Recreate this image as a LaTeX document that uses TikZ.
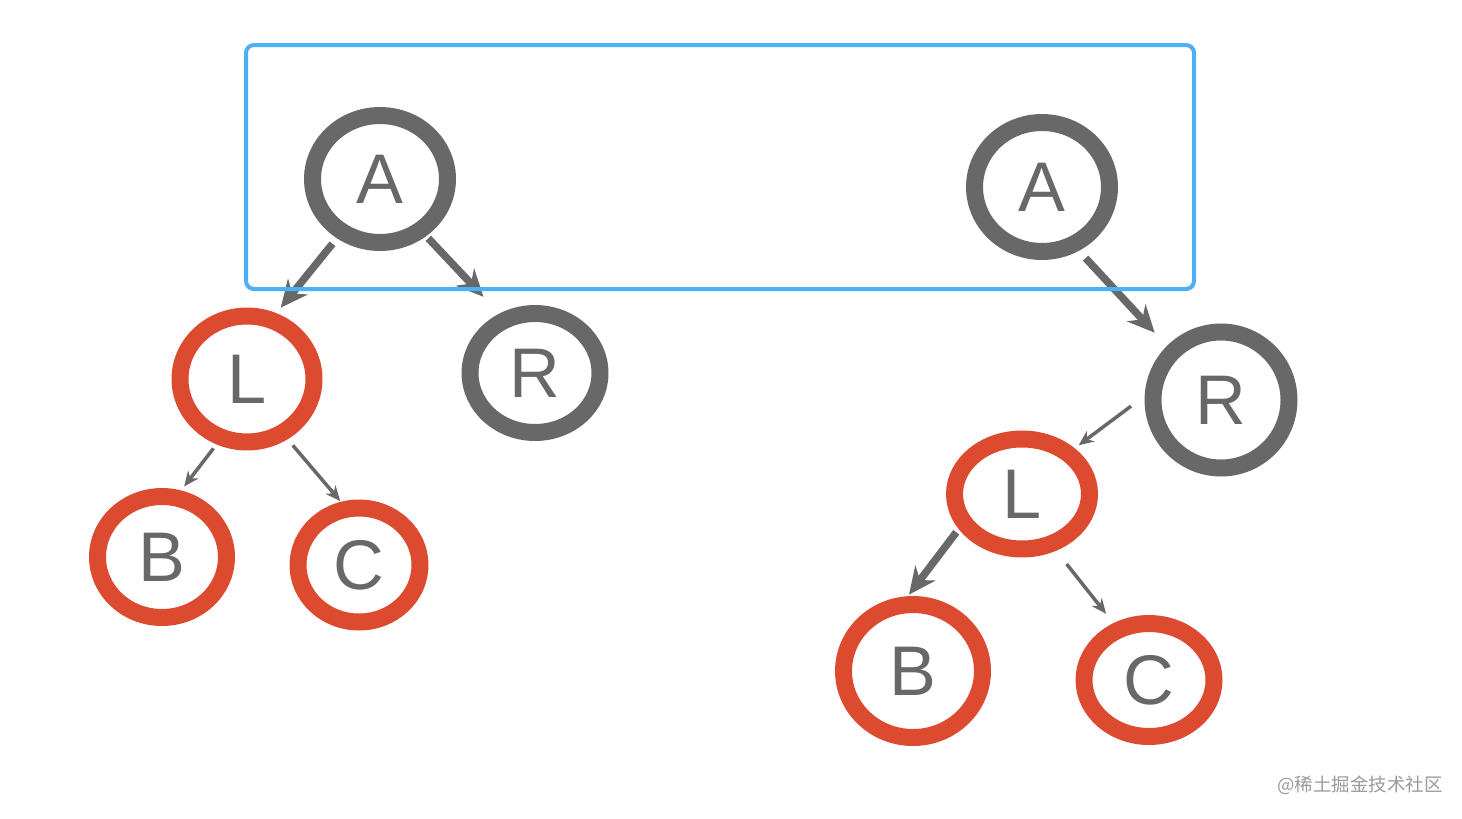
\documentclass[tikz,border=0pt]{standalone}
\usepackage{fontspec}
\setmainfont{Liberation Sans}
\newfontfamily\cjk{Noto Sans CJK SC}
\usetikzlibrary{arrows.meta,shapes.geometric}
\definecolor{ringgray}{HTML}{686868}
\definecolor{ringred}{HTML}{DC4A2F}
\definecolor{boxblue}{HTML}{4DB0F2}

\begin{document}
\begin{tikzpicture}[x=0.02cm,y=-0.02cm,
  tnode/.style={ellipse,draw=#1,line width=0.34cm,inner sep=0pt,text=ringgray,
    font=\fontsize{40}{44}\selectfont},
  fat/.style={draw=ringgray,line width=0.15cm,-{Stealth[length=0.54cm,width=0.5cm]}},
  slim/.style={draw=ringgray,line width=0.07cm,-{Stealth[length=0.3cm,width=0.26cm]}}]
  \useasboundingbox (0,0) rectangle (1462,818);

  % left tree
  \node[tnode=ringgray,minimum width=2.70cm,minimum height=2.54cm] (lA) at (380,179) {A};
  \node[tnode=ringred,minimum width=2.68cm,minimum height=2.52cm] (lL) at (247,379) {L};
  \node[tnode=ringgray,minimum width=2.60cm,minimum height=2.38cm] (lR) at (535,373) {R};
  \node[tnode=ringred,minimum width=2.58cm,minimum height=2.42cm] (lB) at (162,557) {B};
  \node[tnode=ringred,minimum width=2.44cm,minimum height=2.28cm] (lC) at (359,565) {C};

  % right tree
  \node[tnode=ringgray,minimum width=2.70cm,minimum height=2.58cm] (rA) at (1042,187) {A};
  \node[tnode=ringgray,minimum width=2.72cm,minimum height=2.72cm] (rR) at (1221,400) {R};
  \node[tnode=ringred,minimum width=2.70cm,minimum height=2.20cm] (rL) at (1022,494) {L};
  \node[tnode=ringred,minimum width=2.78cm,minimum height=2.66cm] (rB) at (913,671) {B};
  \node[tnode=ringred,minimum width=2.60cm,minimum height=2.26cm] (rC) at (1149,680) {C};

  % connectors
  \draw[fat,shorten <=0.14cm,shorten >=0.14cm] (lA.234.5) -- (lL.66);
  \draw[fat,shorten <=0.06cm,shorten >=0.46cm] (lA.309) -- (lR.121.5);
  \draw[slim,shorten <=0.1cm,shorten >=0.1cm] (lL.245) -- (lB.74);
  \draw[slim,shorten <=0.16cm,shorten >=0.02cm] (lL.304.5) -- (lC.106);
  \draw[fat,shorten <=0.2cm,shorten >=0.36cm] (rA.300) -- (rR.135.5);
  \draw[slim,shorten <=0.34cm,shorten >=0.1cm] (rR.177.5) -- (rL.41);
  \draw[fat,shorten <=0.08cm,shorten >=0.04cm] (rL.209) -- (rB.94);
  \draw[slim,shorten <=0.34cm,shorten >=0.24cm] (rL.301) -- (rC.122);

  % highlight box
  \draw[boxblue,line width=0.08cm,rounded corners=0.16cm] (246,45) rectangle (1194,289);

  \node[text=black!40,font=\cjk\fontsize{10.5}{12}\selectfont] (mark) at (1360,785) {@稀土掘金技术社区};
\end{tikzpicture}
\end{document}
